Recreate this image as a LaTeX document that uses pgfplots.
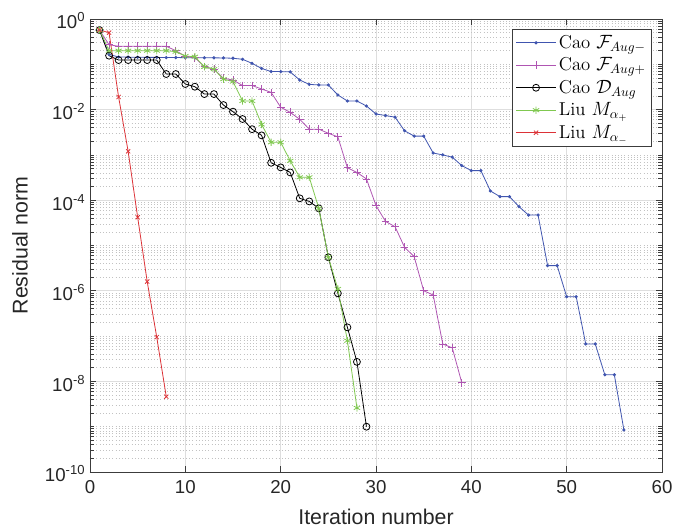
\documentclass[border=0pt]{standalone}
\usepackage{fontspec}
\usepackage{pgfplots}
\pgfplotsset{compat=1.18}
\newfontfamily\arial{Liberation Sans}
\definecolor{cblue}{RGB}{64,85,175}
\definecolor{cpurple}{RGB}{175,85,178}
\definecolor{cgreen}{RGB}{128,200,80}
\definecolor{cred}{RGB}{220,50,55}
\definecolor{axgray}{RGB}{60,60,60}
% minor ticks of the log axis: 2..9 in every decade and the odd decades
\def\minorlist{1e-9,1e-7,1e-5,1e-3,1e-1}
\foreach \e in {-10,...,-1}{\foreach \m in {2,...,9}{\xdef\minorlist{\minorlist,\m e\e}}}
\begin{document}
\begin{tikzpicture}
\path[use as bounding box] (-67.5pt,-43.5pt) rectangle (437.25pt,354pt);
\begin{axis}[
  scale only axis, width=429pt, height=339.75pt,
  at={(0,0)}, anchor=south west,
  ymode=log, xmin=0, xmax=60, ymin=1e-10, ymax=1,
  xtick={0,10,...,60},
  ytick={1e-10,1e-8,1e-6,1e-4,1e-2,1},
  yticklabels={10\textsuperscript{-10},10\textsuperscript{-8},10\textsuperscript{-6},10\textsuperscript{-4},10\textsuperscript{-2},10\textsuperscript{0}},
  minor ytick/.expand once=\minorlist,
  /pgf/number format/assume math mode=true,
  ticklabel style={font=\arial\fontsize{14}{16}\selectfont, text=black!85},
  xticklabel style={yshift=-3pt},
  yticklabel style={yshift=-1.5pt},
  xmajorgrids, ymajorgrids, yminorgrids,
  major grid style={black!13, line width=0.5pt},
  minor grid style={black!24, dotted, line width=0.5pt},
  axis line style={axgray, line width=0.5pt},
  every tick/.style={axgray, line width=0.5pt},
  major tick length=4.3pt, minor tick length=3pt,
  tick align=inside,
  xlabel={Iteration number}, ylabel={Residual norm},
  label style={font=\arial\fontsize{16}{18}\selectfont, text=black!85},
  xlabel style={at={(axis description cs:0.5,-0.1)}, anchor=center},
  ylabel style={at={(axis description cs:-0.1224,0.5)}, anchor=center},
  legend style={at={(0.9825,0.978)}, anchor=north east, draw=axgray,
    font=\fontsize{14}{16}\selectfont, inner sep=2.5pt, row sep=1.5pt},
  legend cell align=left,
  legend image code/.code={\draw[mark repeat=2,mark phase=2,#1] plot coordinates {(0cm,0cm) (0.52cm,0cm) (1.04cm,0cm)};},
]
\addplot[cblue, line width=0.6pt, mark=*, mark size=0.9pt] coordinates {
(1,0.57) (2,0.165) (3,0.145) (4,0.144) (5,0.143) (6,0.142) (7,0.142) (8,0.141)
(9,0.141) (10,0.140) (11,0.140) (12,0.139) (13,0.139) (14,0.138) (15,0.136)
(16,0.129) (17,0.105) (18,0.081) (19,0.069) (20,0.069) (21,0.068) (22,0.045)
(23,0.036) (24,0.035) (25,0.035) (26,0.021) (27,0.0155) (28,0.0155) (29,0.012)
(30,0.008) (31,0.0074) (32,0.0068) (33,0.0034) (34,0.0026) (35,0.0026)
(36,0.0011) (37,0.001) (38,8.9e-4) (39,5.8e-4) (40,4.5e-4) (41,4.5e-4)
(42,1.6e-4) (43,1.2e-4) (44,1.2e-4) (45,7.2e-5) (46,4.7e-5) (47,4.7e-5)
(48,3.6e-6) (49,3.6e-6) (50,7.4e-7) (51,7.4e-7) (52,6.7e-8) (53,6.7e-8)
(54,1.4e-8) (55,1.4e-8) (56,8.5e-10)};
\addlegendentry{Cao $\mathcal{F}_{Aug-}$}
\addplot[cpurple, line width=0.6pt, mark=+, mark size=2.9pt] coordinates {
(1,0.57) (2,0.27) (3,0.25) (4,0.25) (5,0.25) (6,0.25) (7,0.25) (8,0.25)
(9,0.2) (10,0.15) (11,0.14) (12,0.089) (13,0.078) (14,0.049) (15,0.045)
(16,0.034) (17,0.034) (18,0.0285) (19,0.024) (20,0.0113) (21,0.0087)
(22,0.0061) (23,0.0037) (24,0.0037) (25,0.0030) (26,0.0025) (27,5.2e-4)
(28,4.1e-4) (29,2.95e-4) (30,7.6e-5) (31,3.4e-5) (32,2.6e-5) (33,9.1e-6)
(34,5.7e-6) (35,1.0e-6) (36,8.1e-7) (37,6.7e-8) (38,5.5e-8) (39,9.3e-9)};
\addlegendentry{Cao $\mathcal{F}_{Aug+}$}
\addplot[black, line width=0.6pt, mark=o, mark size=2.6pt] coordinates {
(1,0.57) (2,0.155) (3,0.124) (4,0.124) (5,0.124) (6,0.124) (7,0.124)
(8,0.061) (9,0.061) (10,0.0367) (11,0.032) (12,0.022) (13,0.022) (14,0.0126)
(15,0.009) (16,0.0062) (17,0.0037) (18,0.0027) (19,6.7e-4) (20,5.3e-4)
(21,4.1e-4) (22,1.1e-4) (23,9.4e-5) (24,6.6e-5) (25,5.5e-6) (26,8.8e-7)
(27,1.56e-7) (28,2.7e-8) (29,1e-9)};
\addlegendentry{Cao $\mathcal{D}_{Aug}$}
\addplot[cgreen, line width=0.6pt, mark=asterisk, mark size=2.7pt] coordinates {
(1,0.57) (2,0.2) (3,0.2) (4,0.2) (5,0.2) (6,0.2) (7,0.2) (8,0.2) (9,0.19)
(10,0.152) (11,0.147) (12,0.088) (13,0.078) (14,0.047) (15,0.0415)
(16,0.0155) (17,0.0155) (18,0.0047) (19,0.0019) (20,0.0019) (21,7.4e-4)
(22,3.2e-4) (23,3.2e-4) (24,6.6e-5) (25,5.5e-6) (26,1.1e-6) (27,7.9e-8)
(28,2.6e-9)};
\addlegendentry{Liu $M_{\alpha_+}$}
\addplot[cred, line width=0.6pt, mark=x, mark size=2.2pt] coordinates {
(1,0.57) (2,0.5) (3,0.019) (4,1.2e-3) (5,4.2e-5) (6,1.6e-6) (7,9.5e-8)
(8,4.6e-9)};
\addlegendentry{Liu $M_{\alpha_-}$}
\end{axis}
\end{tikzpicture}
\end{document}
